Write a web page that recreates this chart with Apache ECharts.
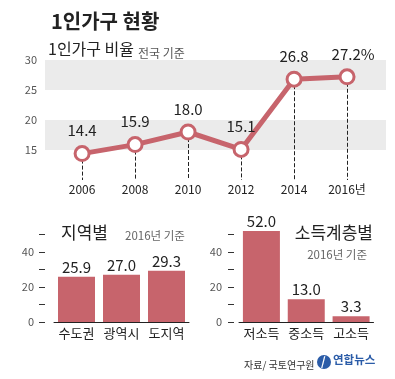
<!DOCTYPE html>
<html>
<head>
<meta charset="utf-8">
<script src="https://cdn.jsdelivr.net/npm/echarts@6/dist/echarts.min.js"></script>
<style>
html,body{margin:0;padding:0;background:#fff;}
#c{width:395px;height:379px;}
</style>
</head>
<body>
<div id="c"></div>
<script>
// ---- data ----
var years = [2006, 2008, 2010, 2012, 2014, 2016];
var ratio = [14.4, 15.9, 18.0, 15.1, 26.8, 27.2];
var yTicksTop = [15, 20, 25, 30];

var regionCats = ['수도권', '광역시', '도지역'];
var regionVals = [25.9, 27.0, 29.3];

var incomeCats = ['저소득', '중소득', '고소득'];
var incomeVals = [52.0, 13.0, 3.3];

var barTickValues = [0, 10, 20, 30, 40, 50];
var barLabelValues = [0, 20, 40];

var FONT = '"Noto Sans CJK KR", "Noto Sans", sans-serif';
var RED = '#c7646c';

var chart = echarts.init(document.getElementById('c'), null, {renderer: 'canvas'});

function barYAxis(gridIndex, offset, margin) {
  return {
    type: 'value', gridIndex: gridIndex, min: 0, max: 55, offset: offset,
    axisLine: {show: false},
    axisTick: {show: true, inside: false, length: 6, lineStyle: {color: '#333'}, customValues: barTickValues},
    axisLabel: {customValues: barLabelValues, color: '#555', fontSize: 11, margin: margin, fontFamily: FONT},
    splitLine: {show: false}
  };
}
function barXAxis(gridIndex, cats) {
  return {
    type: 'category', gridIndex: gridIndex, data: cats,
    axisLine: {show: true, lineStyle: {color: '#222', width: 1}},
    axisTick: {show: false},
    axisLabel: {interval: 0, color: '#222', fontSize: 13, margin: 5, fontFamily: FONT}
  };
}
function barSeries(idx, vals) {
  return {
    type: 'bar', xAxisIndex: idx, yAxisIndex: idx, data: vals,
    barWidth: 37,
    itemStyle: {color: RED},
    label: {show: true, position: 'top', distance: 2, color: '#222', fontSize: 15, fontFamily: FONT,
      formatter: function (p) { return p.value.toFixed(1); }},
    silent: true
  };
}

var lineData = years.map(function (y, i) {
  var item = {value: [y, ratio[i]]};
  if (i === years.length - 1) { item.label = {offset: [6, 0]}; }
  return item;
});

var option = {
  animation: false,
  textStyle: {fontFamily: FONT},
  title: [
    {text: '1인가구 현황', left: 46, top: 6, textStyle: {fontSize: 20, fontWeight: 'bold', color: '#222', fontFamily: FONT}},
    {text: '1인가구 비율', left: 43, top: 36, textStyle: {fontSize: 16, fontWeight: 'normal', color: '#222', fontFamily: FONT}},
    {text: '전국 기준', left: 133, top: 42, textStyle: {fontSize: 12, fontWeight: 'normal', color: '#555', fontFamily: FONT}},
    {text: '지역별', left: 56, top: 219, textStyle: {fontSize: 17, fontWeight: 'normal', color: '#222', fontFamily: FONT}},
    {text: '2016년 기준', left: 120, top: 225, textStyle: {fontSize: 11.5, fontWeight: 'normal', color: '#666', fontFamily: FONT}},
    {text: '소득계층별', right: 17, top: 219, textStyle: {fontSize: 17, fontWeight: 'normal', color: '#222', fontFamily: FONT}},
    {text: '2016년 기준', right: 23, top: 244, textStyle: {fontSize: 11.5, fontWeight: 'normal', color: '#666', fontFamily: FONT}},
    {text: '자료/ 국토연구원', left: 239, top: 355, textStyle: {fontSize: 10, fontWeight: 'normal', color: '#333', fontFamily: FONT}}
  ],
  graphic: [
    {type: 'circle', shape: {cx: 324, cy: 362, r: 7}, style: {fill: '#2b5ca8'}},
    {type: 'text', left: 321, top: 355, style: {text: '/', fill: '#fff', fontSize: 12, fontWeight: 'bold', fontFamily: FONT}},
    {type: 'text', left: 333, top: 354, style: {text: '연합뉴스', fill: '#2b5ca8', fontSize: 11.5, fontWeight: 'bold', fontFamily: FONT}}
  ],
  grid: [
    {left: 45, width: 341, top: 60, height: 120},
    {left: 54, width: 135, top: 225.75, height: 96.25},
    {left: 239, width: 134.5, top: 225.75, height: 96.25}
  ],
  xAxis: [
    {
      type: 'value', gridIndex: 0, min: 2004.6, max: 2017.47,
      axisLine: {show: false}, axisTick: {show: false}, splitLine: {show: false},
      axisLabel: {customValues: years, color: '#222', fontSize: 12, margin: 3, fontFamily: FONT,
        formatter: function (v) { return v === years[years.length - 1] ? v + '년' : String(v); }}
    },
    barXAxis(1, regionCats),
    barXAxis(2, incomeCats)
  ],
  yAxis: [
    {
      type: 'value', gridIndex: 0, min: 10, max: 30, interval: 5,
      axisLine: {show: false}, axisTick: {show: false}, splitLine: {show: false},
      splitArea: {show: true, areaStyle: {color: ['rgba(255,255,255,0)', '#ebebeb']}},
      axisLabel: {customValues: yTicksTop, color: '#555', fontSize: 11, margin: 8, fontFamily: FONT}
    },
    barYAxis(1, 9, 11),
    barYAxis(2, 5, 12)
  ],
  series: [
    {
      type: 'line', xAxisIndex: 0, yAxisIndex: 0,
      data: lineData,
      symbol: 'circle', symbolSize: 14, z: 5,
      lineStyle: {color: RED, width: 5},
      itemStyle: {color: '#fff', borderColor: RED, borderWidth: 3},
      label: {show: true, position: 'top', distance: 7, color: '#222', fontSize: 15, fontFamily: FONT,
        formatter: function (p) {
          var s = p.value[1].toFixed(1);
          return p.dataIndex === years.length - 1 ? s + '%' : s;
        }},
      markLine: {
        silent: true, z: 1, symbol: ['none', 'none'],
        lineStyle: {type: 'dashed', color: '#222', width: 1},
        label: {show: false},
        data: years.map(function (y, i) { return [{coord: [y, ratio[i]]}, {coord: [y, 10]}]; })
      },
      silent: true
    },
    barSeries(1, regionVals),
    barSeries(2, incomeVals)
  ]
};
chart.setOption(option);
</script>
</body>
</html>
